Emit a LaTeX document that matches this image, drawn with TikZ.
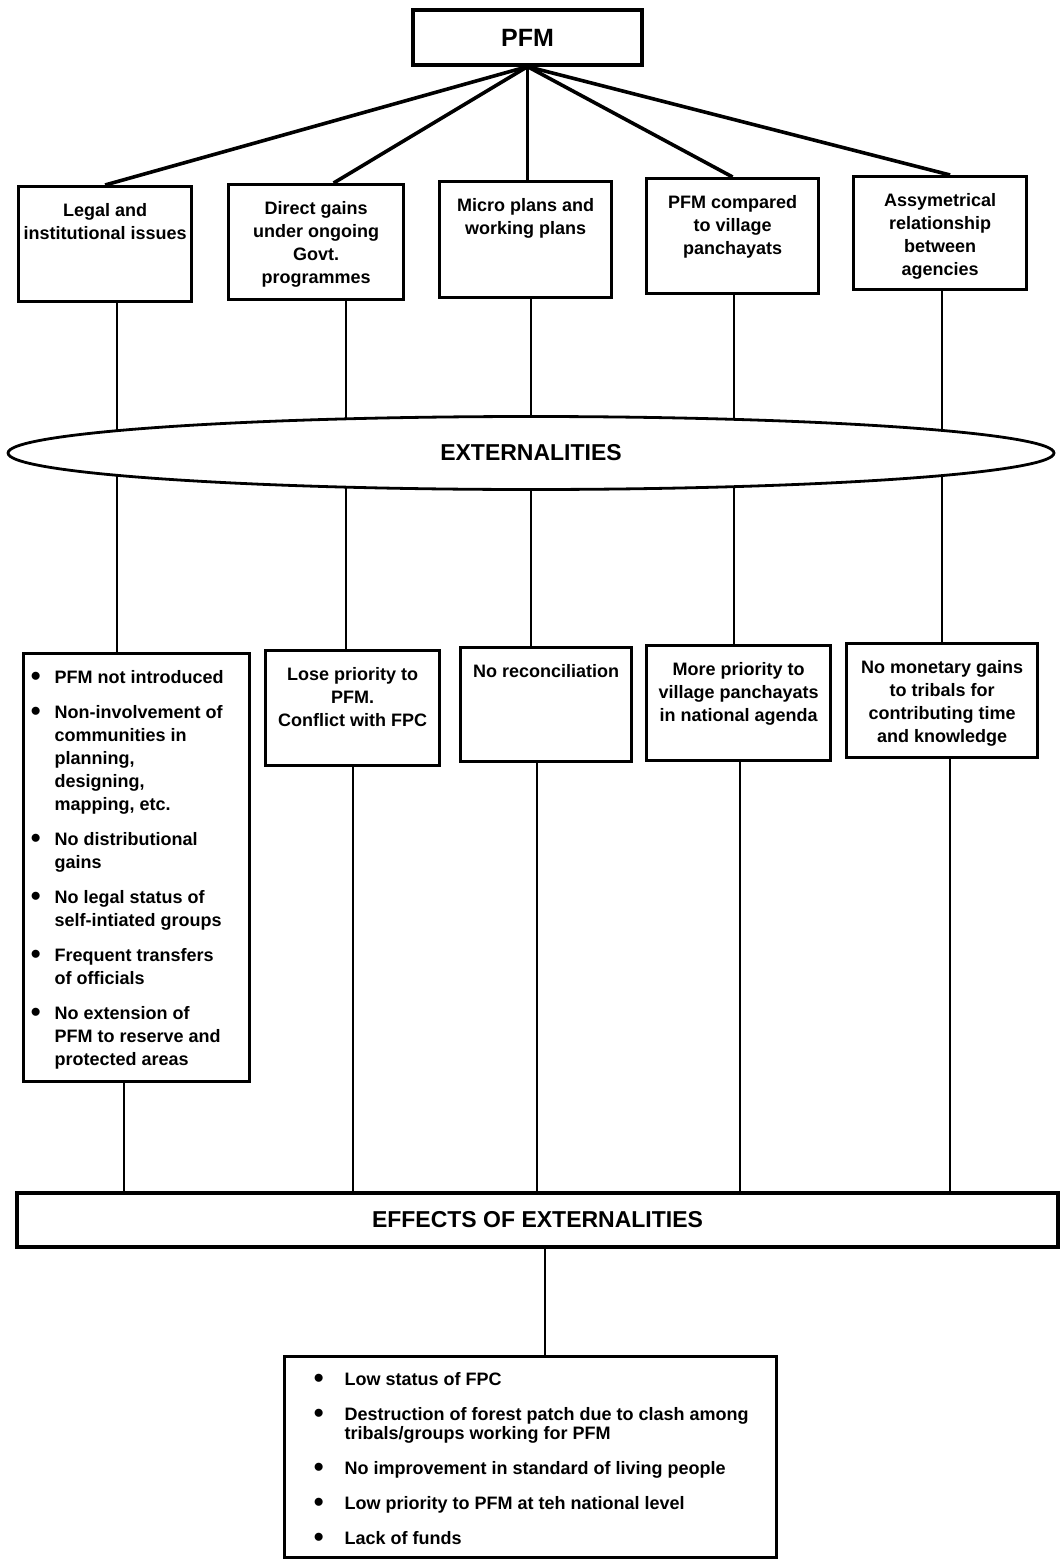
\documentclass[tikz,border=0pt]{standalone}
\usepackage{fontspec}
\setmainfont{Liberation Sans}
\usetikzlibrary{shapes.geometric}
\tikzset{
    %Define style for the small boxes
    cellrect/.style={
           rectangle,
           draw=black, line width=1.6pt,
           inner sep=0pt,
           anchor=north west,
           font=\bfseries\fontsize{9}{11.5}\selectfont},
    %Define style for the wide boxes
    widerect/.style={
           rectangle,
           draw=black, line width=1.6pt,
           inner sep=0pt,
           text centered,
           font=\bfseries\fontsize{11.5}{14}\selectfont},
    %Define style for the oval
    oval/.style={
           ellipse,
           draw=black, line width=1.4pt,
           fill=white,
           inner sep=0pt,
           minimum width=523pt,
           minimum height=36.5pt,
           font=\bfseries\fontsize{11.5}{14}\selectfont},
    % Define line styles
    fan/.style={line width=1.8pt},
    link/.style={line width=1.2pt}
}
% text set from the top of a box of fixed size
\newcommand{\celltext}[3]{\begin{minipage}[t][#2][t]{#1}\centering\vspace*{8.5pt}#3\end{minipage}}
% a bigger bullet
\newcommand{\bigdot}{\smash{\raisebox{-0.8pt}{\fontsize{14}{14}\selectfont\textbullet}}}
% bullet list: left margin, label sep, item sep
\newenvironment{dotlist}[3]{\begin{list}{\bigdot}{%
    \setlength{\leftmargin}{#1}\setlength{\labelsep}{#2}%
    \setlength{\itemsep}{#3}\setlength{\parsep}{0pt}%
    \setlength{\topsep}{0pt}\setlength{\rightmargin}{0pt}}\raggedright}{\end{list}}

\begin{document}
\begin{tikzpicture}[x=0.5pt,y=-0.5pt]
\useasboundingbox (0,0) rectangle (1062,1562);
\node[widerect, minimum width=114.5pt, minimum height=27.5pt,
  font=\bfseries\fontsize{12.5}{15}\selectfont] (0) at (527.5,37.5) {PFM};
\node[cellrect] (1) at (17,185) {\celltext{86.5pt}{57.5pt}{Legal and\\ institutional issues}};
\node[cellrect] (2) at (227,183) {\celltext{87.5pt}{57.5pt}{Direct gains\\ under ongoing\\ Govt.\\ programmes}};
\node[cellrect] (3) at (438,180) {\celltext{86pt}{58pt}{Micro plans and\\ working plans}};
\node[cellrect] (4) at (645,177) {\celltext{86pt}{57.5pt}{PFM compared\\ to village\\ panchayats}};
\node[cellrect] (5) at (852,175) {\celltext{86.5pt}{56.5pt}{Assymetrical\\ relationship\\ between\\ agencies}};
% second row
\node[cellrect] (7) at (22,652) {\begin{minipage}[t][214pt][t]{113pt}\vspace*{8.5pt}
  \begin{dotlist}{15.5pt}{7pt}{6pt}
  \item PFM not introduced
  \item Non-involvement of\\ communities in\\ planning,\\ designing,\\ mapping, etc.
  \item No distributional\\ gains
  \item No legal status of\\ self-intiated groups
  \item Frequent transfers\\ of officials
  \item No extension of\\ PFM to reserve and\\ protected areas
  \end{dotlist}\end{minipage}};
\node[cellrect] (8) at (264,649) {\celltext{87pt}{57.5pt}{Lose priority to\\ PFM.\\ Conflict with FPC}};
\node[cellrect] (9) at (459,646) {\celltext{85.5pt}{57pt}{No reconciliation}};
\node[cellrect] (10) at (645,644) {\celltext{92pt}{57.5pt}{More priority to\\ village panchayats\\ in national agenda}};
\node[cellrect] (11) at (845,642) {\celltext{95.5pt}{57pt}{No monetary gains\\ to tribals for\\ contributing time\\ and knowledge}};
% effects
\node[widerect, minimum width=520.5pt, minimum height=27pt] (12) at (537.5,1220) {EFFECTS OF EXTERNALITIES};
\node[cellrect, font=\bfseries\fontsize{9}{9.5}\selectfont] (13) at (283,1355) {\begin{minipage}[t][100.5pt][t]{246pt}\vspace*{8pt}
  \begin{dotlist}{30pt}{10.5pt}{8pt}
  \item Low status of FPC
  \item Destruction of forest patch due to clash among\\ tribals/groups working for PFM
  \item No improvement in standard of living people
  \item Low priority to PFM at teh national level
  \item Lack of funds
  \end{dotlist}\end{minipage}};
% fan from PFM
\draw[fan] (0.south) -- (1.north);
\draw[fan] (0.south) -- ([xshift=8.75pt]2.north);
\draw[fan] (0.south) -- (3.north -| 0.south);
\draw[fan] (0.south) -- (4.north);
\draw[fan] (0.south) -- ([xshift=5pt]5.north);
% columns
\coordinate (c1) at (117,0);
\coordinate (c2) at (346,0);
\coordinate (c3) at (531,0);
\coordinate (c4) at (734,0);
\coordinate (c5) at (942,0);
\coordinate (d1) at (124,0);
\coordinate (d2) at (353,0);
\coordinate (d3) at (537,0);
\coordinate (d4) at (740,0);
\coordinate (d5) at (950,0);
\coordinate (f) at (545,0);
\draw[link] (1.south -| c1) -- (7.north -| c1);
\draw[link] (2.south -| c2) -- (8.north -| c2);
\draw[link] (3.south -| c3) -- (9.north -| c3);
\draw[link] (4.south -| c4) -- (10.north -| c4);
\draw[link] (5.south -| c5) -- (11.north -| c5);
\draw[link] (7.south -| d1) -- (12.north -| d1);
\draw[link] (8.south -| d2) -- (12.north -| d2);
\draw[link] (9.south -| d3) -- (12.north -| d3);
\draw[link] (10.south -| d4) -- (12.north -| d4);
\draw[link] (11.south -| d5) -- (12.north -| d5);
\draw[link] (12.south -| f) -- (13.north -| f);
% the oval goes over the columns
\node[oval] (6) at (531,453) {EXTERNALITIES};
\end{tikzpicture}
\end{document}
